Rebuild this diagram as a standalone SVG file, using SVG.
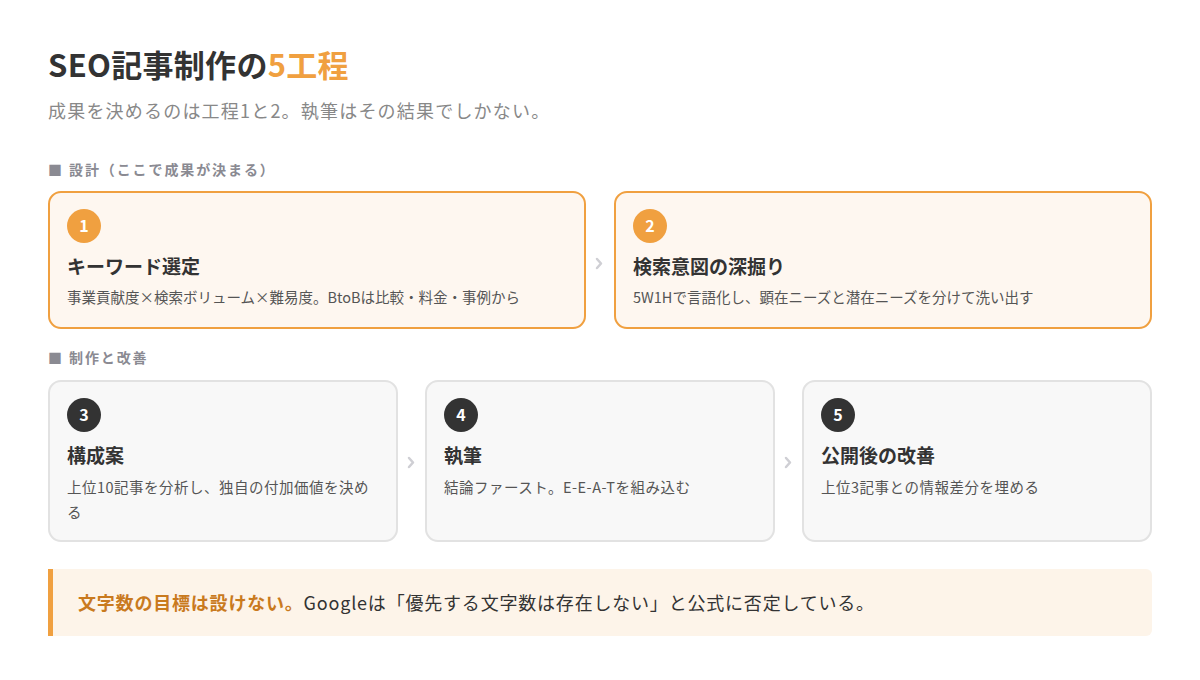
<svg xmlns="http://www.w3.org/2000/svg" width="1200" height="680" viewBox="0 0 1200 680">
<style>
text{font-family:"Noto Sans CJK JP","Noto Sans",sans-serif}
.h1{font-size:31px;font-weight:700;fill:#333;letter-spacing:0.3px}
.sub{font-size:18px;fill:#888;letter-spacing:1.2px}
.sec{font-size:14px;font-weight:700;fill:#8a8a92;letter-spacing:1.9px}
.cardA{fill:#fef7f0;stroke:#f0a040;stroke-width:2}
.cardB{fill:#f8f8f8;stroke:#e2e2e2;stroke-width:2}
.bA{fill:#f0a040}
.bB{fill:#333}
.num{font-size:16px;font-weight:700;fill:#fff;text-anchor:middle}
.tt{font-size:19px;font-weight:700;fill:#333}
.ds{font-size:14.5px;fill:#555}
.ds2{font-size:14.5px;fill:#555;letter-spacing:0.5px}
.chev{fill:none;stroke:#cfcfd4;stroke-width:2.5;stroke-linecap:round;stroke-linejoin:round}
</style>
<rect width="1200" height="680" fill="#fff"/>
<text x="48" y="77" class="h1">SEO記事制作の<tspan fill="#f0a040">5工程</tspan></text>
<text x="48" y="118" class="sub">成果を決めるのは工程1と2。執筆はその結果でしかない。</text>
<text x="48" y="175" class="sec">■ 設計（ここで成果が決まる）</text>
<g id="node1">
<rect x="49" y="192" width="536" height="136" rx="12" class="cardA"/>
<circle cx="84" cy="226" r="17" class="bA"/>
<text x="84" y="231.5" class="num">1</text>
<text x="67" y="274" class="tt">キーワード選定</text>
<text x="67" y="303" class="ds">事業貢献度×検索ボリューム×難易度。BtoBは比較・料金・事例から</text>
</g>
<g id="node2">
<rect x="615" y="192" width="536" height="136" rx="12" class="cardA"/>
<circle cx="650" cy="226" r="17" class="bA"/>
<text x="650" y="231.5" class="num">2</text>
<text x="633" y="274" class="tt">検索意図の深掘り</text>
<text x="633" y="303" class="ds">5W1Hで言語化し、顕在ニーズと潜在ニーズを分けて洗い出す</text>
</g>
<text x="48" y="363" class="sec">■ 制作と改善</text>
<g id="node3">
<rect x="49" y="381" width="348" height="160" rx="12" class="cardB"/>
<circle cx="84" cy="415" r="17" class="bB"/>
<text x="84" y="420.5" class="num">3</text>
<text x="67" y="463" class="tt">構成案</text>
<text x="67" y="493" class="ds2">上位10記事を分析し、独自の付加価値を決め</text>
<text x="67" y="518" class="ds2">る</text>
</g>
<g id="node4">
<rect x="426" y="381" width="348" height="160" rx="12" class="cardB"/>
<circle cx="461" cy="415" r="17" class="bB"/>
<text x="461" y="420.5" class="num">4</text>
<text x="444" y="463" class="tt">執筆</text>
<text x="444" y="493" class="ds2">結論ファースト。E-E-A-Tを組み込む</text>
</g>
<g id="node5">
<rect x="803" y="381" width="348" height="160" rx="12" class="cardB"/>
<circle cx="838" cy="415" r="17" class="bB"/>
<text x="838" y="420.5" class="num">5</text>
<text x="821" y="463" class="tt">公開後の改善</text>
<text x="821" y="493" class="ds2">上位3記事との情報差分を埋める</text>
</g>
<g id="connectors">
<path d="M597 259 L601 263.5 L597 268" class="chev"/>
<path d="M409 458 L413 462.5 L409 467" class="chev"/>
<path d="M786 458 L790 462.5 L786 467" class="chev"/>
</g>
<g id="callout">
<rect x="48" y="569" width="1104" height="67" rx="6" fill="#fdf4e9"/>
<rect x="48" y="569" width="5" height="67" fill="#f0a040"/>
<text x="78" y="610" font-size="18" letter-spacing="0.8" fill="#333"><tspan font-weight="700" fill="#c97a1e">文字数の目標は設けない。</tspan>Googleは「優先する文字数は存在しない」と公式に否定している。</text>
</g>
</svg>
